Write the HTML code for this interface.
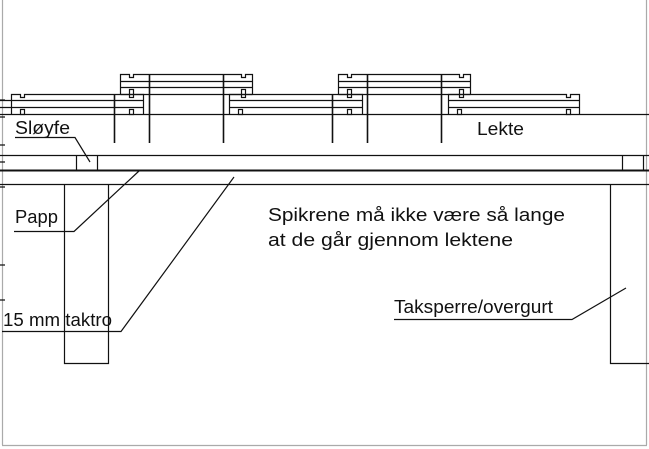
<!DOCTYPE html>
<html><head><meta charset="utf-8"><style>
html,body{margin:0;padding:0;background:#fff;}
svg{display:block;}
text{font-family:"Liberation Sans",sans-serif;font-size:18px;fill:#111;}
</style></head><body>
<svg width="649" height="449" viewBox="0 0 649 449" xmlns="http://www.w3.org/2000/svg">
<g fill="none" stroke="#aaa" stroke-width="1.2">
<line x1="2.5" y1="0" x2="2.5" y2="445"/>
<line x1="2" y1="445.5" x2="647" y2="445.5"/>
<line x1="646.5" y1="0" x2="646.5" y2="445"/>
</g>
<g fill="none" stroke="#111" stroke-width="1.2">
<path d="M0 100h5M0 117h5M0 145h5M0 162h5M0 187h5M0 265h5M0 300h5"/>
<g>
<path d="M120.5 94.5V74.5H129.5V77.5H133.5V74.5H241.5V77.5H245.5V74.5H252.5V94.5"/>
<path d="M120.5 81.5H252.5M120.5 87.5H252.5M120.5 94.5H252.5"/>
<rect x="129.5" y="89.5" width="4" height="8"/>
<rect x="241.5" y="89.5" width="4" height="8"/>
</g>
<g transform="translate(218,0)">
<path d="M120.5 94.5V74.5H129.5V77.5H133.5V74.5H241.5V77.5H245.5V74.5H252.5V94.5"/>
<path d="M120.5 81.5H252.5M120.5 87.5H252.5M120.5 94.5H252.5"/>
<rect x="129.5" y="89.5" width="4" height="8"/>
<rect x="241.5" y="89.5" width="4" height="8"/>
</g>
<g>
<path d="M11.5 114.5V94.5H20.5V97.5H24.5V94.5H143.5V114.5"/>
<path d="M11.5 100.5H143.5M11.5 107.5H143.5"/>
<rect x="20.5" y="109.5" width="4" height="5"/>
<rect x="129.5" y="109.5" width="4" height="5"/>
</g>
<path d="M229.5 114.5V94.5H362.5V114.5M229.5 100.5H362.5M229.5 107.5H362.5"/>
<rect x="238.5" y="109.5" width="4" height="5"/>
<rect x="347.5" y="109.5" width="4" height="5"/>
<path d="M448.5 114.5V94.5H566.5V97.5H570.5V94.5H579.5V114.5M448.5 100.5H579.5M448.5 107.5H579.5"/>
<rect x="457.5" y="109.5" width="4" height="5"/>
<rect x="566.5" y="109.5" width="4" height="5"/>
<path d="M0 100.5H11.5M0 107.5H11.5"/>
<path d="M0 114.5H649M0 155.5H649"/>
<path d="M114.5 94V143M149.5 74V143M223.5 74V143M332.5 94V143M367.5 74V143M441.5 74V143" stroke-width="1.6"/>
<path d="M76.5 155.5V170M97.5 155.5V170M622.5 155.5V170M643.5 155.5V170"/>
<line x1="0" y1="170.5" x2="649" y2="170.5" stroke-width="2"/>
<line x1="0" y1="184.5" x2="649" y2="184.5"/>
<path d="M64.5 184.5V363.5H108.5V184.5"/>
<path d="M610.5 184.5V363.5H649"/>
<path d="M15 137.5H75L90 162"/>
<path d="M14 231.5H74L139 171"/>
<path d="M2 331.5H121L234 177"/>
<path d="M394 319.5H572L626 288"/>
</g>
<text x="15" y="134" textLength="55" lengthAdjust="spacingAndGlyphs">Sløyfe</text>
<text x="477" y="135" textLength="47" lengthAdjust="spacingAndGlyphs">Lekte</text>
<text x="15" y="223" textLength="43" lengthAdjust="spacingAndGlyphs">Papp</text>
<text x="3" y="326" textLength="109" lengthAdjust="spacingAndGlyphs">15 mm taktro</text>
<text x="268" y="221" textLength="297" lengthAdjust="spacingAndGlyphs">Spikrene må ikke være så lange</text>
<text x="268" y="246" textLength="245" lengthAdjust="spacingAndGlyphs">at de går gjennom lektene</text>
<text x="394" y="313" textLength="159" lengthAdjust="spacingAndGlyphs">Taksperre/overgurt</text>
</svg>
</body></html>
